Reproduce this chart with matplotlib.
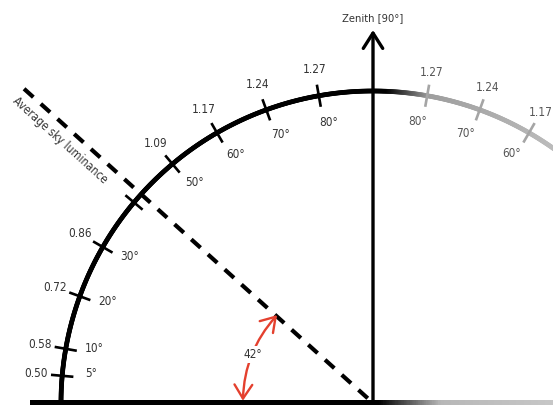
import numpy as np
import matplotlib
matplotlib.use("Agg")
import matplotlib.pyplot as plt
from matplotlib.collections import LineCollection
from matplotlib.patches import FancyArrowPatch
from matplotlib.colors import LinearSegmentedColormap

# ---- data ----
left_angles = [5, 10, 20, 30, 50, 60, 70, 80]
left_lum = ["0.50", "0.58", "0.72", "0.86", "1.09", "1.17", "1.24", "1.27"]
right_angles = [80, 70, 60]
right_lum = ["1.27", "1.24", "1.17"]
extra_tick_angles = [40]
sky_angle = 42
zenith_label = "Zenith [90°]"
sky_label = "Average sky luminance"

plt.rcParams['font.family'] = ["DejaVu Sans"]
plt.rcParams['font.stretch'] = 'condensed'

S = 312.0  # pixels per unit radius
fig = plt.figure(figsize=(5.53, 4.05), dpi=100)
ax = fig.add_axes([0, 0, 1, 1])
ax.set_xlim(-373 / S, 180 / S)
ax.set_ylim(-2 / S, 403 / S)
ax.set_aspect('equal')
ax.axis('off')

def pol(r, phi_deg):
    p = np.deg2rad(phi_deg)
    return r * np.cos(p), r * np.sin(p)

# ---- main arc with fade on right side ----
phis = np.linspace(50, 180, 600)
def arc_gray(phi):
    if phi >= 88:
        return 0.0
    if phi >= 80:
        return (88 - phi) / 8 * 0.62
    return 0.62 + (80 - phi) / 30 * 0.14
xs, ys = pol(1.0, phis)
pts = np.column_stack([xs, ys])
segs = np.stack([pts[:-1], pts[1:]], axis=1)
cols = [(g, g, g) for g in (arc_gray(0.5 * (a + b)) for a, b in zip(phis[:-1], phis[1:]))]
ax.add_collection(LineCollection(segs, colors=cols, linewidths=3.4, capstyle='round', zorder=3))

# ---- ground line with fade (gradient strip) ----
gx0, gx1 = -343 / S, 180 / S
gcm = LinearSegmentedColormap.from_list(
    "ground", [(0.0, (0, 0, 0)), ((0.02 - gx0) / (gx1 - gx0), (0, 0, 0)),
               ((0.22 - gx0) / (gx1 - gx0), (0.72, 0.72, 0.72)), (1.0, (0.78, 0.78, 0.78))])
grad = np.linspace(0, 1, 600).reshape(1, -1)
ax.imshow(grad, cmap=gcm, extent=[gx0, gx1, -2.6 / S, 2.6 / S], aspect='auto',
          interpolation='bilinear', zorder=3)

# ---- zenith arrow ----
ax.annotate("", xy=(0, 373 / S), xytext=(0, 0),
            arrowprops=dict(arrowstyle="->,head_length=0.55,head_width=0.35",
                            lw=2.4, color="black", mutation_scale=20,
                            shrinkA=0, shrinkB=0), zorder=4)
ax.text(0, 385 / S, zenith_label, ha='center', va='center', fontsize=8, color='#333333')

# ---- ticks & labels (left) ----
tick_half = 0.036
FS = 8.5
for a, lum in zip(left_angles, left_lum):
    phi = 180 - a
    x0, y0 = pol(1 - tick_half, phi)
    x1, y1 = pol(1 + tick_half, phi)
    ax.plot([x0, x1], [y0, y1], color='black', lw=1.9, zorder=4, solid_capstyle='butt')
    tx, ty = pol(1.085, phi)
    ax.text(tx, ty, lum, ha='center', va='center', fontsize=FS, color='#333333')
    lx, ly = pol(0.91, phi - 1)
    ax.text(lx, ly, f"{a}°", ha='center', va='center', fontsize=FS, color='#333333')

for a in extra_tick_angles:
    phi = 180 - a
    x0, y0 = pol(1 - tick_half, phi)
    x1, y1 = pol(1 + tick_half, phi)
    ax.plot([x0, x1], [y0, y1], color='black', lw=1.9, zorder=4, solid_capstyle='butt')

# ---- ticks & labels (right, faded) ----
for a, lum in zip(right_angles, right_lum):
    phi = a
    x0, y0 = pol(1 - tick_half, phi)
    x1, y1 = pol(1 + tick_half, phi)
    ax.plot([x0, x1], [y0, y1], color='#a5a5a5', lw=1.9, zorder=4, solid_capstyle='butt')
    tx, ty = pol(1.075, phi)
    ax.text(tx, ty, lum, ha='center', va='center', fontsize=FS, color='#555555')
    lx, ly = pol(0.915, phi + 1)
    ax.text(lx, ly, f"{a}°", ha='center', va='center', fontsize=FS, color='#555555')

# ---- dashed sky line (drawn from the outer end inwards) ----
phi_s = 180 - sky_angle
ex, ey = pol(1.505, phi_s)
ax.plot([ex, 0], [ey, 0], color='black', lw=3.0, linestyle=(0, (3.0, 2.4)),
        dash_capstyle='butt', zorder=3)
sx, sy = pol(1.31, 140)
ax.text(sx, sy, sky_label, rotation=-sky_angle, rotation_mode='anchor',
        ha='center', va='center', fontsize=8.4, color='#333333')

# ---- red angle arrow ----
r_a = 0.417
pA = pol(r_a, 179)
pB = pol(r_a, 180 - sky_angle - 0.5)
theta = np.deg2rad(sky_angle - 0.5)
rad = (1 - np.cos(theta / 2)) / np.sin(theta / 2)
arr = FancyArrowPatch(pA, pB, connectionstyle=f"arc3,rad={-rad:.3f}",
                      arrowstyle="<->,head_length=0.5,head_width=0.32",
                      mutation_scale=20, lw=1.7, color='#e4402e',
                      shrinkA=0, shrinkB=0, zorder=5)
ax.add_patch(arr)
mx, my = pol(r_a, 180 - 22)
ax.text(mx, my, f"{sky_angle}°", ha='center', va='center', fontsize=FS, color='#333333',
        bbox=dict(facecolor='white', edgecolor='none', pad=1.5), zorder=6)

fig.savefig("out.png", dpi=100)
